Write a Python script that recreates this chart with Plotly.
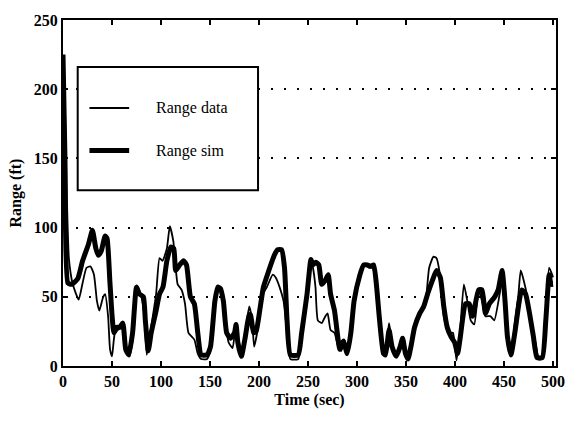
import plotly.graph_objects as go

# Range data (thin line)
data_t = [0, 1, 3, 6, 10, 16, 20, 24, 28, 31.6, 34.6, 37, 41, 43, 46, 48, 50, 53, 57.6, 61, 65, 68, 72, 76, 80, 83, 85.5, 89, 95, 98.5, 101.5, 106, 109, 112.6, 117, 121, 124.5, 128, 134, 137.5, 141, 147, 151, 154, 158, 162, 165, 169, 173, 176.6, 179, 182, 186, 190, 193, 195, 199, 202.6, 208, 214, 217, 221, 225, 228.6, 232, 240, 243.5, 249, 253, 255, 257.6, 260, 264, 267.7, 270, 273, 277, 280.7, 284, 287, 290, 293.7, 297, 303, 308.5, 312, 316, 320, 323, 327, 331, 332.7, 335.7, 340, 344, 347, 349.4, 352, 355, 360.6, 366, 370, 373.6, 378, 381, 385, 388.5, 393, 397.8, 401.5, 405, 409, 412.5, 416, 419.6, 424, 427.5, 431, 436, 440, 445.5, 448.7, 451.5, 454, 457, 461, 464.7, 467, 470, 474.5, 478, 482, 485, 489, 492.6, 496, 500]
data_v = [110, 220, 150, 78, 59, 48, 60, 71, 72, 66, 47, 40, 50, 52, 36, 12, 7, 24, 27, 28, 9, 7, 24, 57, 50, 36, 8, 24, 52, 78, 76, 85, 101, 90, 59, 55, 45, 24, 19, 9, 5, 5, 14, 47, 57, 54, 36, 17, 13, 31, 17, 9, 24, 43, 33, 14, 28, 50, 57, 66, 64, 57, 47, 24, 5, 5, 24, 52, 76, 71, 57, 33, 31, 36, 38, 26, 24, 14, 11, 19, 9, 24, 43, 64, 74, 71, 71, 55, 31, 9, 21, 31, 17, 7, 14, 21, 9, 4, 14, 31, 40, 47, 71, 79, 78, 64, 36, 24, 24, 4, 24, 59, 47, 33, 30, 55, 47, 36, 36, 33, 52, 66, 52, 19, 9, 31, 52, 69, 62, 47, 28, 17, 7, 7, 38, 71, 64]

# Range sim (thick line)
sim_t = [0, 2, 5, 9, 15, 20, 26, 30, 33.5, 36, 39, 43, 45, 48, 52, 55, 58, 61, 64, 67, 71, 75, 78, 82, 84, 87, 90, 95, 98.5, 102, 106, 110, 113, 115, 119, 123, 126, 130, 134, 137.5, 141, 147, 150.5, 155, 158, 160.6, 163.6, 167, 171, 175, 176.6, 178.4, 182, 186, 190, 191.4, 194.4, 197, 200.7, 204.5, 210, 215.6, 219, 223, 226, 228.6, 232, 240, 243.5, 249, 253, 255, 258, 261, 264, 267.7, 270.6, 273, 277, 280.7, 282.5, 286, 290, 293.7, 297, 303, 306.7, 310.4, 314, 317, 320, 323, 327, 329, 332.7, 335.7, 340, 344, 346.5, 349.4, 352, 355, 358.7, 364, 368, 372, 377, 381, 385, 388.5, 392, 396, 399.6, 402.6, 405, 410.8, 414.5, 418, 424, 427.5, 431, 435, 440.5, 444, 448, 451, 453.5, 457, 461, 464.7, 468, 472, 476, 480, 483.6, 489, 492.6, 496, 498, 500]
sim_v = [225, 150, 60, 59, 63, 76, 88, 98, 85, 80, 83, 94, 92, 59, 24, 28, 28, 31, 12, 8, 24, 57, 52, 50, 33, 11, 24, 40, 52, 57, 76, 86, 85, 69, 73, 76, 73, 50, 45, 24, 8, 8, 14, 47, 57, 56, 47, 24, 20, 24, 30, 17, 7, 21, 37, 37, 24, 25, 40, 57, 69, 80, 84, 84, 71, 33, 8, 8, 24, 52, 77, 73, 75, 73, 59, 62, 66, 52, 40, 19, 12, 18, 9, 24, 47, 66, 73, 73, 72, 73, 57, 33, 9, 8, 26, 14, 7, 14, 20, 9, 5, 14, 28, 38, 43, 52, 62, 69, 64, 43, 28, 21, 17, 9, 19, 45, 45, 36, 55, 55, 38, 45, 50, 55, 69, 47, 21, 8, 24, 43, 55, 52, 38, 21, 6, 6, 33, 66, 59, 59]

series_names = ["Range data", "Range sim"]
x_ticks = [0, 50, 100, 150, 200, 250, 300, 350, 400, 450, 500]
y_ticks = [0, 50, 100, 150, 200, 250]

FONT = "Liberation Serif"

fig = go.Figure()
fig.add_trace(go.Scatter(x=data_t, y=data_v, mode="lines", name=series_names[0],
                         line=dict(color="black", width=1.8, shape="spline", smoothing=0.5),
                         showlegend=False))
fig.add_trace(go.Scatter(x=sim_t, y=sim_v, mode="lines", name=series_names[1],
                         line=dict(color="black", width=5, shape="spline", smoothing=0.5),
                         showlegend=False))

# legend box drawn manually
fig.add_shape(type="rect", xref="x", yref="y", x0=15, x1=199, y0=127, y1=216,
              line=dict(color="black", width=2), fillcolor="white", layer="above")
leg_y = [186.4, 155.7]
leg_w = [1.8, 5]
for name, yy, w in zip(series_names, leg_y, leg_w):
    fig.add_shape(type="line", xref="x", yref="y", x0=27, x1=67.5, y0=yy, y1=yy,
                  line=dict(color="black", width=w), layer="above")
    fig.add_annotation(x=93, y=yy, xref="x", yref="y", text=name, showarrow=False,
                       xanchor="left", yanchor="middle",
                       font=dict(family=FONT, size=16, color="black"))

axis_common = dict(showline=True, linecolor="black", linewidth=2, mirror="ticks",
                   ticks="inside", ticklen=5, tickwidth=1.5, tickcolor="black",
                   zeroline=False,
                   tickfont=dict(family=FONT, size=16, color="black", weight="bold"))

fig.update_xaxes(range=[0, 503], tickvals=x_ticks, showgrid=False,
                 title=dict(text="Time (sec)", standoff=5,
                            font=dict(family=FONT, size=16, color="black", weight="bold")),
                 **axis_common)
fig.update_yaxes(range=[0, 250], tickvals=y_ticks,
                 showgrid=True, gridcolor="black", gridwidth=1.5, griddash="2px,11px",
                 title=dict(text="Range (ft)", standoff=8,
                            font=dict(family=FONT, size=16, color="black", weight="bold")),
                 **axis_common)

fig.update_layout(width=577, height=421, margin=dict(l=63, r=16, t=15, b=55),
                  paper_bgcolor="white", plot_bgcolor="white")

fig.write_html("out.html")
